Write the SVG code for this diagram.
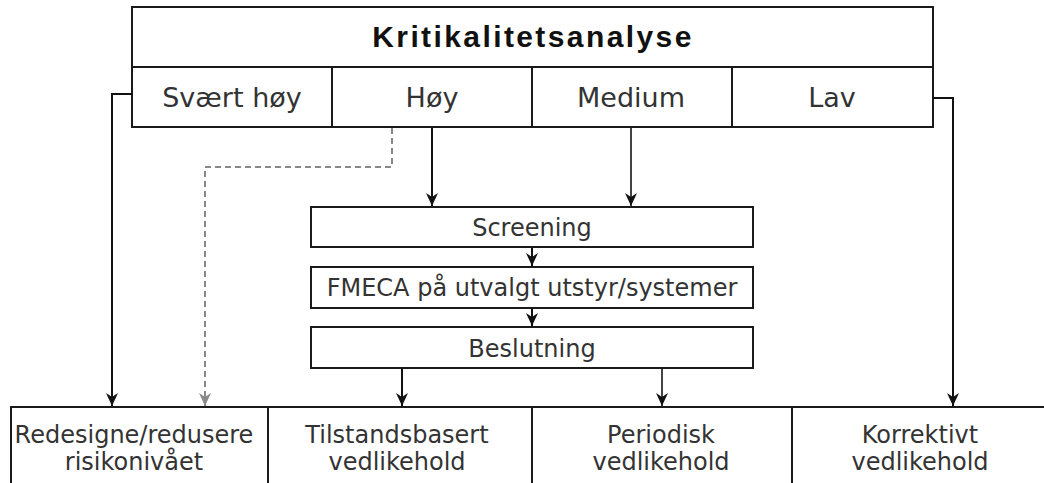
<svg xmlns="http://www.w3.org/2000/svg" width="1044" height="483" viewBox="0 0 1044 483">
<style>
.box{fill:#fff;stroke:#1a1a1a;stroke-width:2}
.lbl{font-family:"DejaVu Sans",Verdana,sans-serif;fill:#333;text-anchor:middle}
.top{font-size:27px}
.mid{font-size:24px}
.bot{font-size:24px}
.title{font-family:"Liberation Sans",Arial,sans-serif;font-weight:bold;font-size:30px;letter-spacing:2.4px;fill:#111;text-anchor:middle}
.conn{fill:none;stroke:#111;stroke-width:2;marker-end:url(#ah)}
.dash{fill:none;stroke:#888;stroke-width:2;stroke-dasharray:6 4;marker-end:url(#ahg)}
</style>
<defs>
<marker id="ah" markerUnits="userSpaceOnUse" markerWidth="14" markerHeight="14" refX="13" refY="6" orient="auto" viewBox="0 0 14 12">
<path d="M0,0 L13,6 L0,12 L4,6 Z" fill="#111"/>
</marker>
<marker id="ahg" markerUnits="userSpaceOnUse" markerWidth="14" markerHeight="14" refX="13" refY="6" orient="auto" viewBox="0 0 14 12">
<path d="M0,0 L13,6 L0,12 L4,6 Z" fill="#888"/>
</marker>
</defs>
<rect width="1044" height="483" fill="#fff"/>
<g id="kritikalitetsanalyse">
<rect class="box" x="132" y="7" width="801" height="60"/>
<text class="title" x="533" y="47">Kritikalitetsanalyse</text>
</g>
<g id="svaert-hoy">
<rect class="box" x="132" y="67" width="200" height="60"/>
<text class="lbl top" x="232" y="107">Svært høy</text>
</g>
<g id="hoy">
<rect class="box" x="332" y="67" width="200" height="60"/>
<text class="lbl top" x="432" y="107">Høy</text>
</g>
<g id="medium">
<rect class="box" x="532" y="67" width="200" height="60"/>
<text class="lbl top" x="631" y="107">Medium</text>
</g>
<g id="lav">
<rect class="box" x="732" y="67" width="201" height="60"/>
<text class="lbl top" x="832" y="107">Lav</text>
</g>
<g id="screening">
<rect class="box" x="311" y="207" width="442" height="40"/>
<text class="lbl mid" x="532" y="236">Screening</text>
</g>
<g id="fmeca">
<rect class="box" x="311" y="267" width="442" height="41"/>
<text class="lbl mid" x="532" y="296">FMECA på utvalgt utstyr/systemer</text>
</g>
<g id="beslutning">
<rect class="box" x="311" y="327" width="442" height="41"/>
<text class="lbl mid" x="532" y="357">Beslutning</text>
</g>
<g id="redesigne">
<rect class="box" x="11" y="407" width="257" height="100"/>
<text class="lbl bot" x="134" y="443">Redesigne/redusere</text>
<text class="lbl bot" x="134" y="470">risikonivået</text>
</g>
<g id="tilstandsbasert">
<rect class="box" x="268" y="407" width="264" height="100"/>
<text class="lbl bot" x="397" y="443">Tilstandsbasert</text>
<text class="lbl bot" x="397" y="470">vedlikehold</text>
</g>
<g id="periodisk">
<rect class="box" x="532" y="407" width="260" height="100"/>
<text class="lbl bot" x="661" y="443">Periodisk</text>
<text class="lbl bot" x="661" y="470">vedlikehold</text>
</g>
<g id="korrektivt">
<rect class="box" x="792" y="407" width="262" height="100"/>
<text class="lbl bot" x="920" y="443">Korrektivt</text>
<text class="lbl bot" x="920" y="470">vedlikehold</text>
</g>
<g id="connectors">
<path class="conn" d="M132,94 H112 V406"/>
<path class="conn" d="M933,98 H953 V406"/>
<path class="dash" d="M392,128 V167 H205 V406"/>
<path class="conn" d="M432,128 V206"/>
<path class="conn" d="M631,128 V206" style="stroke:#444"/>
<path class="conn" d="M532,248 V266"/>
<path class="conn" d="M532,309 V326"/>
<path class="conn" d="M402,369 V406"/>
<path class="conn" d="M662,369 V406" style="stroke:#444"/>
</g>
</svg>
